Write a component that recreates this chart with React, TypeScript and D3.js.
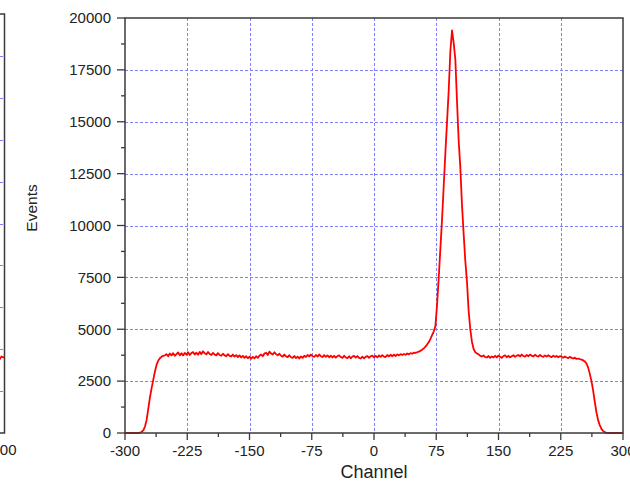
import React from 'react';
import * as d3 from 'd3';

// counts per 2-channel bin, grouped by region of the spectrum
const riseStart = -300;
const riseCounts = [
  0, 0, 0, 0, 0, 0, 0, 0, 0,
  15, 50, 130, 300, 620, 1150, 1700, 2150, 2550, 2950, 3280, 3480, 3600, 3670, 3720, 3740,
];

const plateauStart = -250;
const plateauCounts = [
  3800, 3700, 3830, 3740, 3850, 3720, 3800, 3880, 3740, 3840,
  3740, 3860, 3770, 3890, 3760, 3850, 3900, 3780, 3870, 3770,
  3910, 3800, 3940, 3840, 3790, 3900, 3810, 3760, 3860, 3780,
  3740, 3850, 3760, 3720, 3820, 3740, 3700, 3800, 3720, 3690,
  3780, 3680, 3750, 3660, 3740, 3640, 3720, 3620, 3700, 3600,
  3680, 3580, 3670, 3600, 3700, 3620, 3720, 3780, 3700, 3830,
  3870, 3760, 3920, 3830, 3780, 3890, 3800, 3740, 3820, 3720,
  3680, 3780, 3690, 3660, 3750, 3650, 3620, 3710, 3610, 3680,
  3590, 3690, 3620, 3720, 3660, 3760, 3690, 3780, 3700, 3670,
  3760, 3680, 3780, 3700, 3660, 3750, 3670, 3740, 3650, 3730,
  3640, 3720, 3630, 3710, 3740, 3660, 3620, 3720, 3640, 3610,
  3700, 3600, 3680, 3720, 3630, 3710, 3620, 3590, 3680, 3600,
  3670, 3710, 3620, 3700, 3730, 3650, 3720, 3640, 3740, 3670,
  3750, 3680, 3660, 3760, 3690, 3770, 3700, 3780, 3710, 3790,
  3740, 3800, 3760, 3810, 3770, 3830, 3790, 3850, 3820, 3870,
];

const peakStart = 50;
const peakCounts = [
  3860, 3890, 3920, 3960, 4010, 4080, 4160, 4260, 4380, 4540, 4720, 4900, 5150,
  6200, 7500, 8900, 10300, 11900, 13500, 15000, 16500, 18400, 19400, 18800, 18000,
  16000, 14100, 12800, 11000, 9600, 8300, 7300, 5900, 5000, 4400, 4050, 3900, 3830,
];

const tailStart = 126;
const tailCounts = [
  3790, 3720, 3690, 3740, 3660, 3640, 3710, 3620, 3690, 3640,
  3720, 3640, 3730, 3670, 3620, 3710, 3740, 3650, 3720, 3650,
  3700, 3750, 3670, 3730, 3760, 3690, 3780, 3710, 3680, 3760,
  3700, 3780, 3720, 3690, 3770, 3710, 3680, 3760, 3700, 3670,
  3740, 3680, 3750, 3690, 3660, 3730, 3670, 3710, 3650, 3700,
  3680, 3630, 3690, 3640, 3610, 3670, 3620, 3590, 3630, 3570,
];

const fallStart = 246;
const fallCounts = [
  3590, 3560, 3540, 3500, 3450, 3350, 3150, 2850, 2500, 2050, 1500, 1000, 620, 380, 200, 100, 40, 10,
  0, 0, 0, 0, 0, 0, 0, 0, 0, 0,
];

const xTicks = [-300, -225, -150, -75, 0, 75, 150, 225, 300];
const yTicks = [0, 2500, 5000, 7500, 10000, 12500, 15000, 17500, 20000];

// the neighbouring panel that is cut off at the left edge
const leftPanelCounts = [3550, 3700, 3480, 3650, 3600];
const leftPanelGrid = [1, 2, 3, 4, 5, 6, 7, 8, 9];

const W = 630;
const H = 483;
const plot = { left: 125, right: 623, top: 18, bottom: 433 };
const font = 'Liberation Sans, Arial, sans-serif';
const gridColor = '#8080ff';
const axisColor = '#3a3a3a';

const seg = (start: number, vals: number[]) => vals.map((v, i) => ({ ch: start + i * 2, v }));

const spectrum = [
  ...seg(riseStart, riseCounts),
  ...seg(plateauStart, plateauCounts),
  ...seg(peakStart, peakCounts),
  ...seg(tailStart, tailCounts),
  ...seg(fallStart, fallCounts),
];

// keep 1px grid lines sharp
const crisp = (v: number) => Math.round(v) + 0.5;

export default function App() {
  const x = d3.scaleLinear().domain([-300, 300]).range([plot.left, plot.right]);
  const y = d3.scaleLinear().domain([0, 20000]).range([plot.bottom, plot.top]);

  const line = d3
    .line<{ ch: number; v: number }>()
    .x(d => x(d.ch))
    .y(d => y(d.v));

  const xMinor = d3.range(-262.5, 300, 75);
  const yMinor = d3.range(1250, 20000, 2500);

  // left panel: only its right edge is visible
  const lx = d3.scaleLinear().domain([0, leftPanelCounts.length - 1]).range([-6, 4]);
  const ly = d3.scaleLinear().domain([0, 10]).range([433, 14]);
  const lyData = d3.scaleLinear().domain([0, 20000]).range([433, 14]);
  const leftLine = d3
    .line<number>()
    .x((_, i) => lx(i))
    .y(d => lyData(d));

  return (
    <svg
      width={W}
      height={H}
      style={{ position: 'absolute', left: 0, top: 0, background: '#fff' }}
      fontFamily={font}
    >
      {/* cut-off left panel */}
      <g>
        {leftPanelGrid.map(t => (
          <line key={t} x1={0} x2={4} y1={crisp(ly(t))} y2={crisp(ly(t))} stroke={gridColor} strokeDasharray="3,2" />
        ))}
        <path d={leftLine(leftPanelCounts) ?? ''} fill="none" stroke="#ff0000" strokeWidth={1.8} />
        <path d="M0,14H4.5V433H0" fill="none" stroke={axisColor} strokeWidth={1.5} />
        <text x={4} y={455} textAnchor="middle" fontSize={15} fill="#222">300</text>
      </g>

      {/* grid */}
      {xTicks.slice(1, -1).map(t => (
        <line key={`gx${t}`} x1={crisp(x(t))} x2={crisp(x(t))} y1={plot.top} y2={plot.bottom}
          stroke={gridColor} strokeDasharray="3,2" />
      ))}
      {yTicks.slice(1, -1).map(t => (
        <line key={`gy${t}`} x1={plot.left} x2={plot.right} y1={crisp(y(t))} y2={crisp(y(t))}
          stroke={gridColor} strokeDasharray="3,2" />
      ))}

      {/* spectrum */}
      <path d={line(spectrum) ?? ''} fill="none" stroke="#ff0000" strokeWidth={1.8} strokeLinejoin="round" />

      {/* frame */}
      <rect x={plot.left} y={plot.top} width={plot.right - plot.left} height={plot.bottom - plot.top}
        fill="none" stroke={axisColor} strokeWidth={1.5} />

      {/* y axis ticks */}
      {yTicks.map(t => (
        <g key={`yt${t}`}>
          <line x1={plot.left - 8} x2={plot.left} y1={y(t)} y2={y(t)} stroke={axisColor} strokeWidth={1.3} />
          <text x={plot.left - 14} y={y(t)} dy="0.35em" textAnchor="end" fontSize={15} fill="#222">{t}</text>
        </g>
      ))}
      {yMinor.map(t => (
        <line key={`ym${t}`} x1={plot.left - 4} x2={plot.left} y1={y(t)} y2={y(t)} stroke={axisColor} strokeWidth={1.3} />
      ))}

      {/* x axis ticks */}
      {xTicks.map(t => (
        <g key={`xt${t}`}>
          <line x1={x(t)} x2={x(t)} y1={plot.bottom} y2={plot.bottom + 7} stroke={axisColor} strokeWidth={1.3} />
          <text x={x(t)} y={456} textAnchor="middle" fontSize={15} fill="#222">{t}</text>
        </g>
      ))}
      {xMinor.map(t => (
        <line key={`xm${t}`} x1={x(t)} x2={x(t)} y1={plot.bottom} y2={plot.bottom + 4} stroke={axisColor} strokeWidth={1.3} />
      ))}

      {/* axis titles */}
      <text x={(plot.left + plot.right) / 2} y={478} textAnchor="middle" fontSize={18} fill="#222">Channel</text>
      <text transform="translate(37,208) rotate(-90)" textAnchor="middle" fontSize={15.5} fill="#222">Events</text>
    </svg>
  );
}
